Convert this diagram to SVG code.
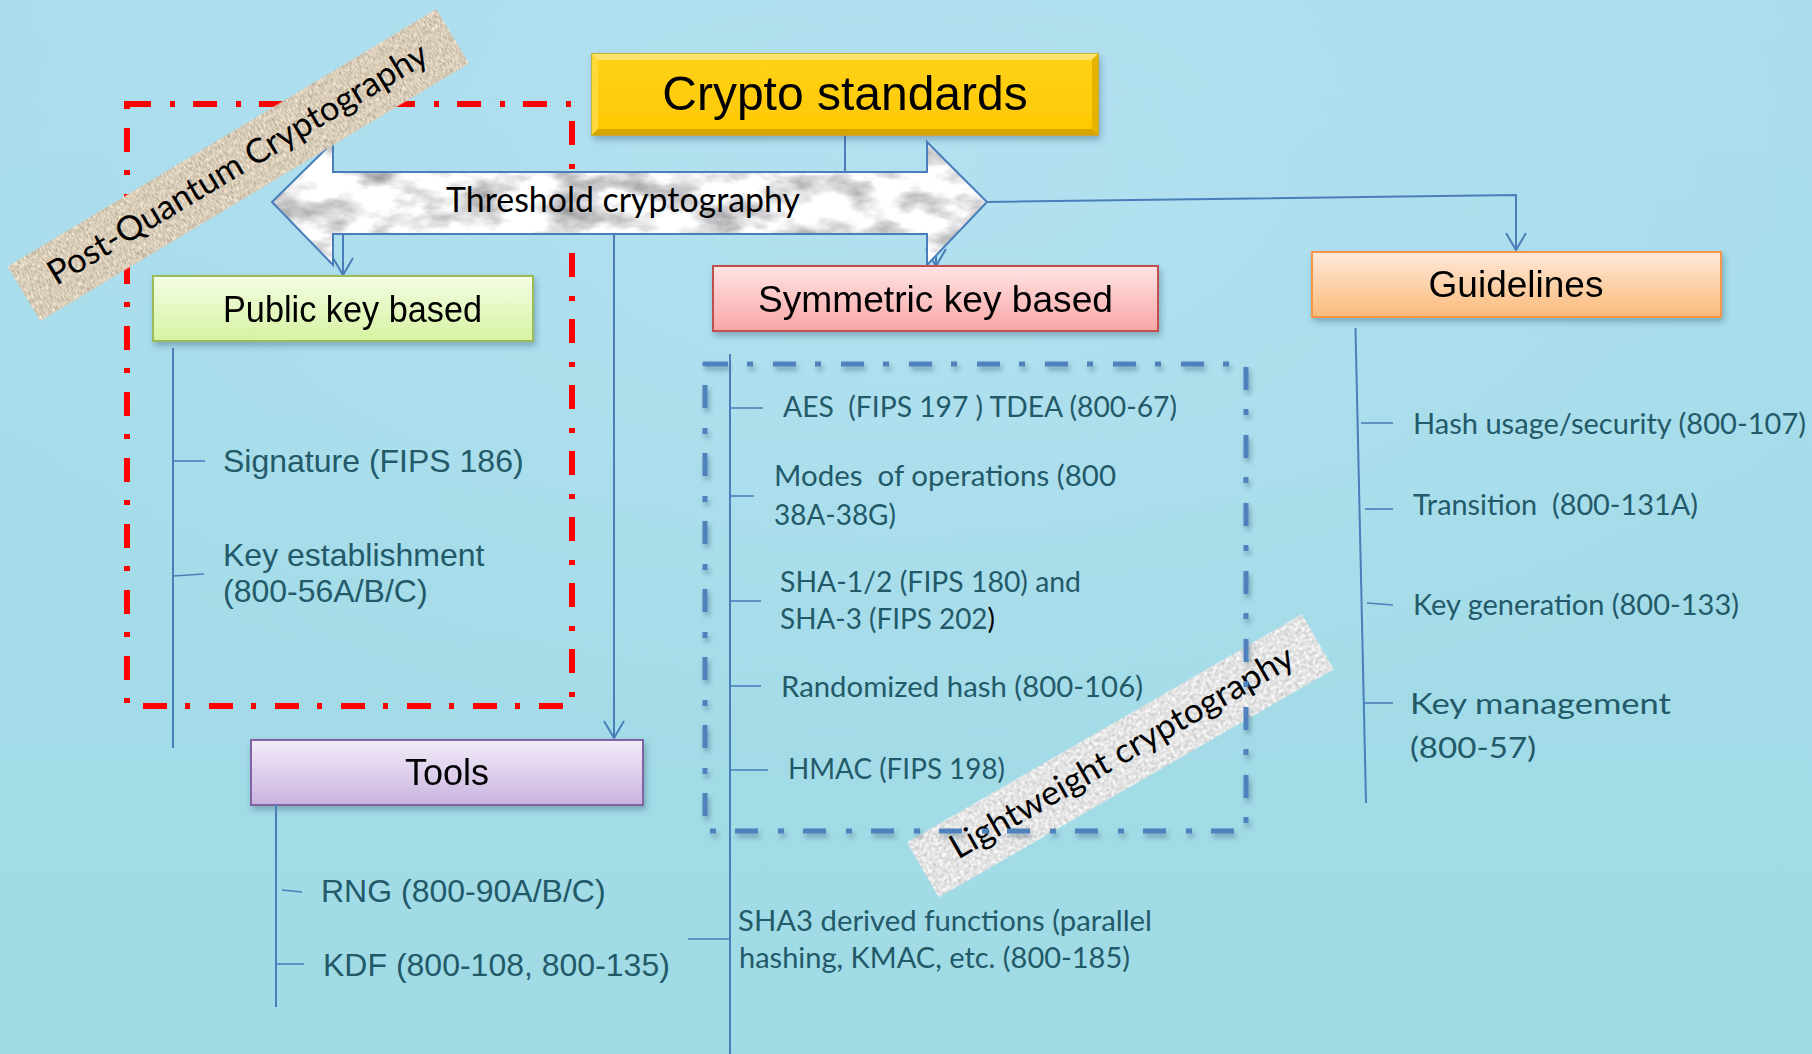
<svg xmlns="http://www.w3.org/2000/svg" width="1812" height="1054" viewBox="0 0 1812 1054">
  <defs>
    <linearGradient id="bg" x1="0" y1="0" x2="0" y2="1">
      <stop offset="0" stop-color="#a9ddec"/>
      <stop offset="1" stop-color="#9fdbe5"/>
    </linearGradient>
    <radialGradient id="glow" cx="0.5" cy="0.15" r="0.6">
      <stop offset="0" stop-color="#b8e2f2" stop-opacity="0.7"/>
      <stop offset="1" stop-color="#b8e2f2" stop-opacity="0"/>
    </radialGradient>
    <linearGradient id="gold" x1="0" y1="0" x2="0" y2="1">
      <stop offset="0" stop-color="#ffd21a"/>
      <stop offset="1" stop-color="#ffc800"/>
    </linearGradient>
    <linearGradient id="green" x1="0" y1="0" x2="0" y2="1">
      <stop offset="0" stop-color="#f4fde6"/>
      <stop offset="1" stop-color="#d6f3a0"/>
    </linearGradient>
    <linearGradient id="pink" x1="0" y1="0" x2="0" y2="1">
      <stop offset="0" stop-color="#ffe4e4"/>
      <stop offset="1" stop-color="#f8a6a6"/>
    </linearGradient>
    <linearGradient id="orange" x1="0" y1="0" x2="0" y2="1">
      <stop offset="0" stop-color="#fee9da"/>
      <stop offset="1" stop-color="#fbbb7b"/>
    </linearGradient>
    <linearGradient id="lavender" x1="0" y1="0" x2="0" y2="1">
      <stop offset="0" stop-color="#f3ecf9"/>
      <stop offset="1" stop-color="#c9b3df"/>
    </linearGradient>
    <filter id="shadow" x="-10%" y="-30%" width="125%" height="170%">
      <feDropShadow dx="2" dy="4" stdDeviation="3" flood-color="#2a4a60" flood-opacity="0.35"/>
    </filter>
    <filter id="soft" x="-5%" y="-5%" width="112%" height="112%">
      <feDropShadow dx="2" dy="4" stdDeviation="2.5" flood-color="#2a4a60" flood-opacity="0.4"/>
    </filter>
    <filter id="marble" x="0" y="0" width="100%" height="100%" color-interpolation-filters="sRGB">
      <feTurbulence type="fractalNoise" baseFrequency="0.02 0.04" numOctaves="4" seed="7" result="n"/>
      <feColorMatrix in="n" type="matrix" values="-0.9 0 0 0 1.38  -0.9 0 0 0 1.38  -0.9 0 0 0 1.39  0 0 0 0 1" result="m"/>
      <feComposite in="m" in2="SourceGraphic" operator="in"/>
    </filter>
    <filter id="burlap" x="0" y="0" width="100%" height="100%" color-interpolation-filters="sRGB">
      <feTurbulence type="fractalNoise" baseFrequency="0.9 0.22" numOctaves="2" seed="2" result="n"/>
      <feColorMatrix in="n" type="matrix" values="0.5 0 0 0 0.6  0.5 0 0 0 0.55  0.5 0 0 0 0.47  0 0 0 0 1" result="c"/>
      <feComposite in="c" in2="SourceGraphic" operator="in"/>
    </filter>
    <filter id="paper" x="0" y="0" width="100%" height="100%" color-interpolation-filters="sRGB">
      <feTurbulence type="fractalNoise" baseFrequency="0.3" numOctaves="3" seed="5" result="n"/>
      <feColorMatrix in="n" type="matrix" values="0.35 0 0 0 0.72  0.35 0 0 0 0.72  0.35 0 0 0 0.72  0 0 0 0 1" result="c"/>
      <feComposite in="c" in2="SourceGraphic" operator="in"/>
    </filter>
    <marker id="open" viewBox="-20 -12 23 24" refX="0" refY="0" markerWidth="23" markerHeight="24" markerUnits="userSpaceOnUse" orient="auto" overflow="visible">
      <path d="M-17,-10 L0,0 L-17,10" fill="none" stroke="#4a7ebb" stroke-width="2"/>
    </marker>
    <style>
      .conn { fill: none; stroke: #4a7ebb; stroke-width: 2; }
      .tree { fill: none; stroke: #4a7ebb; stroke-width: 2; }
      .tick { fill: none; stroke: #4a7ebb; stroke-width: 1.6; }
      .head { font-family: "Liberation Sans", Arial, sans-serif; fill: #000; }
      .arial { font-family: "Liberation Sans", Arial, sans-serif; font-size: 32px; fill: #235a69; }
      .cal { font-family: Lato, "Liberation Sans", sans-serif; font-size: 29px; fill: #235a69; }
      .banner { font-family: Lato, "Liberation Sans", sans-serif; font-size: 34px; fill: #000; }
    </style>
  </defs>

  <!-- slide background -->
  <rect x="0" y="0" width="1812" height="1054" fill="url(#bg)"/>
  <rect x="0" y="0" width="1812" height="1054" fill="url(#glow)"/>

  <!-- post-quantum region -->
  <rect id="pq-region" x="127" y="104" width="445" height="602" fill="none" stroke="#ff0000" stroke-width="6" stroke-dasharray="24 19 5 18"/>

  <!-- connectors -->
  <g id="connectors">
    <path class="conn" d="M845,135 V172"/>
    <path class="conn" d="M343,234 V275" marker-end="url(#open)"/>
    <path class="conn" d="M936,234 V266" marker-end="url(#open)"/>
    <path class="conn" d="M614,234 V738" marker-end="url(#open)"/>
    <path class="conn" d="M987,202 L1516,195 V250" marker-end="url(#open)"/>
  </g>

  <!-- threshold cryptography double arrow -->
  <g id="threshold">
    <polygon points="272,202 333,142 333,172 927,172 927,142 987,202 927,265 927,234 333,234 333,265" fill="#fff" filter="url(#marble)"/>
    <polygon points="272,202 333,142 333,172 927,172 927,142 987,202 927,265 927,234 333,234 333,265" fill="none" stroke="#4a7ebb" stroke-width="2"/>
    <text class="banner" x="446" y="212" textLength="354" lengthAdjust="spacingAndGlyphs">Threshold cryptography</text>
  </g>

  <!-- root node -->
  <g id="crypto-standards" filter="url(#shadow)">
    <rect x="592" y="54" width="506" height="81" fill="url(#gold)" stroke="#d2a200" stroke-width="1.5"/>
    <polygon points="592,54 1098,54 1092,60 598,60" fill="#ffe36b"/>
    <polygon points="592,54 598,60 598,129 592,135" fill="#ffd83a"/>
    <polygon points="1098,54 1092,60 1092,129 1098,135" fill="#e6b300"/>
    <polygon points="592,135 598,129 1092,129 1098,135" fill="#d6a500"/>
    <text class="head" x="845" y="110" font-size="48" text-anchor="middle">Crypto standards</text>
  </g>

  <g id="public-key" filter="url(#shadow)">
    <rect x="153" y="276" width="380" height="65" fill="url(#green)" stroke="#9bbb59" stroke-width="2"/>
    <text class="head" x="223" y="322" font-size="37" textLength="259" lengthAdjust="spacingAndGlyphs">Public key based</text>
  </g>

  <g id="symmetric-key" filter="url(#shadow)">
    <rect x="713" y="266" width="445" height="65" fill="url(#pink)" stroke="#c0504d" stroke-width="2"/>
    <text class="head" x="758" y="312" font-size="37" textLength="355" lengthAdjust="spacingAndGlyphs">Symmetric key based</text>
  </g>

  <g id="guidelines" filter="url(#shadow)">
    <rect x="1312" y="252" width="409" height="65" fill="url(#orange)" stroke="#f79646" stroke-width="2"/>
    <text class="head" x="1516" y="297" font-size="37" text-anchor="middle">Guidelines</text>
  </g>

  <g id="tools" filter="url(#shadow)">
    <rect x="251" y="740" width="392" height="65" fill="url(#lavender)" stroke="#8064a2" stroke-width="2"/>
    <text class="head" x="447" y="785" font-size="36" text-anchor="middle">Tools</text>
  </g>

  <!-- public key items -->
  <g id="public-key-items">
    <path class="tree" d="M173,348 V748"/>
    <path class="tick" d="M173,461 H205"/>
    <path class="tick" d="M173,576 L204,574"/>
    <text class="arial" x="223" y="472">Signature (FIPS 186)</text>
    <text class="arial" x="223" y="566">Key establishment</text>
    <text class="arial" x="223" y="602">(800-56A/B/C)</text>
  </g>

  <!-- tools items -->
  <g id="tools-items">
    <path class="tree" d="M276,805 V1007"/>
    <path class="tick" d="M282,890 L302,892"/>
    <path class="tick" d="M276,964 H304"/>
    <text class="arial" x="321" y="902">RNG (800-90A/B/C)</text>
    <text class="arial" x="323" y="976">KDF (800-108, 800-135)</text>
  </g>

  <!-- lightweight banner (under the symmetric region outline) -->
  <g id="lightweight" transform="translate(1120.3,755.8) rotate(-30)">
    <rect x="-228" y="-31.7" width="456" height="63.4" fill="#fff" filter="url(#paper)"/>
    <text class="banner" x="3" y="9" text-anchor="middle" textLength="391" lengthAdjust="spacingAndGlyphs">Lightweight cryptography</text>
  </g>

  <!-- symmetric region -->
  <rect id="sym-region" x="705" y="364" width="541" height="467" fill="none" stroke="#4f81bd" stroke-width="5" stroke-dasharray="23 19 6 20" filter="url(#soft)"/>

  <!-- symmetric items -->
  <g id="symmetric-items">
    <path class="tree" d="M730,354 V1054"/>
    <path class="tick" d="M730,408 H763"/>
    <path class="tick" d="M730,496 H754"/>
    <path class="tick" d="M730,601 H761"/>
    <path class="tick" d="M730,686 H761"/>
    <path class="tick" d="M730,770 H768"/>
    <path class="tick" d="M688,939 H730"/>
    <text class="cal" x="783" y="417" xml:space="preserve" textLength="394" lengthAdjust="spacingAndGlyphs">AES  (FIPS 197 ) TDEA (800-67)</text>
    <text class="cal" x="774" y="486" xml:space="preserve" textLength="342" lengthAdjust="spacingAndGlyphs">Modes  of operations (800</text>
    <text class="cal" x="774" y="525" textLength="122" lengthAdjust="spacingAndGlyphs">38A-38G)</text>
    <text class="cal" x="780" y="592" textLength="301" lengthAdjust="spacingAndGlyphs">SHA-1/2 (FIPS 180) and</text>
    <text class="cal" x="780" y="629" textLength="215" lengthAdjust="spacingAndGlyphs">SHA-3 (FIPS 202<tspan fill="#000">)</tspan></text>
    <text class="cal" x="781" y="697" textLength="362" lengthAdjust="spacingAndGlyphs">Randomized hash (800-106)</text>
    <text class="cal" x="788" y="779" textLength="217" lengthAdjust="spacingAndGlyphs">HMAC (FIPS 198)</text>
    <text class="cal" x="738" y="931" textLength="414" lengthAdjust="spacingAndGlyphs">SHA3 derived functions (parallel</text>
    <text class="cal" x="739" y="968" textLength="391" lengthAdjust="spacingAndGlyphs">hashing, KMAC, etc. (800-185)</text>
  </g>

  <!-- guideline items -->
  <g id="guideline-items">
    <path class="tree" d="M1355.5,328 L1366,803"/>
    <path class="tick" d="M1361,423 H1393"/>
    <path class="tick" d="M1365,509 H1393"/>
    <path class="tick" d="M1367,603 L1393,605"/>
    <path class="tick" d="M1364,703 H1393"/>
    <text class="cal" x="1413" y="434" textLength="393" lengthAdjust="spacingAndGlyphs">Hash usage/security (800-107)</text>
    <text class="cal" x="1413" y="515" xml:space="preserve" textLength="285" lengthAdjust="spacingAndGlyphs">Transition  (800-131A)</text>
    <text class="cal" x="1413" y="615" textLength="326" lengthAdjust="spacingAndGlyphs">Key generation (800-133)</text>
    <text class="cal" x="1410" y="714" font-size="32" textLength="261" lengthAdjust="spacingAndGlyphs">Key management</text>
    <text class="cal" x="1410" y="758" font-size="32" textLength="126" lengthAdjust="spacingAndGlyphs">(800-57)</text>
  </g>

  <!-- post-quantum banner -->
  <g id="post-quantum" transform="translate(238.3,165) rotate(-31)">
    <rect x="-250" y="-31.7" width="500" height="63.4" fill="#fff" filter="url(#burlap)"/>
    <text class="banner" x="0" y="10" text-anchor="middle" textLength="437" lengthAdjust="spacingAndGlyphs">Post-Quantum Cryptography</text>
  </g>
</svg>
